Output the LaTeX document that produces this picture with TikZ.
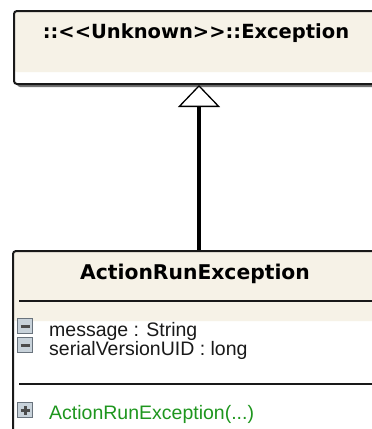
\documentclass[tikz,border=0pt]{standalone}
\usepackage{fontspec}
\setmainfont{Liberation Sans}
\newfontfamily\titlefont{DejaVu Sans}
\usetikzlibrary{arrows.meta,shadows}
\definecolor{cream}{RGB}{246,242,231}
\definecolor{umlgreen}{RGB}{30,150,30}
\definecolor{iconfill}{RGB}{200,210,218}
\definecolor{iconedge}{RGB}{105,115,125}
\definecolor{bordercol}{RGB}{25,25,25}
\begin{document}
\begin{tikzpicture}[x=1pt,y=-1pt,
  classbox/.style={draw=bordercol, line width=2pt, rounded corners=3pt, inner sep=0pt,
    anchor=north west, fill=white,
    drop shadow={shadow xshift=3pt, shadow yshift=-3pt, fill=black!55, opacity=1}},
  creamtop/.style={path picture={\fill[cream] (path picture bounding box.north west)
      rectangle ([yshift=#1]path picture bounding box.south east);}},
  titletext/.style={font=\titlefont\bfseries\fontsize{19.5}{22}\selectfont, inner sep=0pt, anchor=base},
  member/.style={font=\fontsize{19.5}{22}\selectfont, inner sep=0pt, anchor=base west, text=black!90},
  iconbox/.style={draw=iconedge, fill=iconfill, line width=1.3pt, minimum size=15pt, inner sep=0pt},
  iconbar/.style={line width=3pt, draw=black!70},
  sepline/.style={draw=bordercol, line width=2pt},
  inherit/.style={line width=4pt, draw=black,
    -{Triangle[open, width=42pt, length=22pt, line width=1.3pt, fill=white]}}
]
\useasboundingbox (0,0) rectangle (372,429);
\clip (0,0) rectangle (372,429);

% superclass
\node[classbox, creamtop=12pt, minimum width=362pt, minimum height=73pt] (exc) at (13,10) {};
\node[titletext] (excname) at (196,38) {::<<Unknown>>::Exception};

% subclass
\node[classbox, creamtop=130pt, minimum width=362pt, minimum height=200pt] (are) at (12,250) {};
\node[titletext, font=\titlefont\bfseries\fontsize{20.3}{23}\selectfont] (arename) at (195,279) {ActionRunException};
\draw[sepline] (19,301) -- (374,301);
\draw[sepline] (19,384) -- (374,384);

% attributes
\node[iconbox] (i1) at (25,326) {};
\draw[iconbar] ([xshift=-4.5pt]i1.center) -- ([xshift=4.5pt]i1.center);
\node[member] (a1) at (49,336) {message : String};
\node[iconbox] (i2) at (25,345) {};
\draw[iconbar] ([xshift=-4.5pt]i2.center) -- ([xshift=4.5pt]i2.center);
\node[member] (a2) at (49,355) {serialVersionUID : long};

% operations
\node[iconbox] (i3) at (25,410) {};
\draw[iconbar] ([xshift=-4.5pt]i3.center) -- ([xshift=4.5pt]i3.center);
\draw[iconbar] ([yshift=-4.5pt]i3.center) -- ([yshift=4.5pt]i3.center);
\node[member, text=umlgreen] (m1) at (49,419) {ActionRunException(...)};

% generalization
\draw[inherit] (are.north -| 199,0) -- (exc.south -| 199,0);
\end{tikzpicture}
\end{document}
